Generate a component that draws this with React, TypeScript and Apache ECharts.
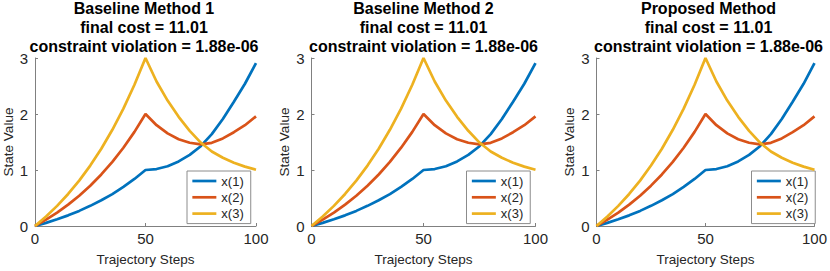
import React, { useEffect, useRef } from "react";
import * as echarts from "echarts";

const steps = [0, 5, 10, 15, 20, 25, 30, 35, 40, 45, 50, 55, 60, 65, 70, 75, 80, 85, 90, 95, 100];
const x1 = [0, 0.056, 0.12, 0.19, 0.27, 0.36, 0.46, 0.57, 0.7, 0.84, 1.0, 1.017, 1.068, 1.153, 1.27, 1.425, 1.64, 1.91, 2.22, 2.54, 2.91];
const x2 = [0, 0.113, 0.239, 0.381, 0.541, 0.72, 0.92, 1.145, 1.398, 1.681, 2.0, 1.8, 1.654, 1.55, 1.486, 1.458, 1.485, 1.564, 1.675, 1.8, 1.958];
const x3 = [0, 0.169, 0.359, 0.572, 0.811, 1.079, 1.38, 1.718, 2.097, 2.522, 3.0, 2.58, 2.24, 1.95, 1.7, 1.49, 1.33, 1.218, 1.129, 1.06, 1.005];
const seriesNames = ["x(1)", "x(2)", "x(3)"];
const seriesColors = ["#0072BD", "#D95319", "#EDB120"];
const panelTitles = ["Baseline Method 1", "Baseline Method 2", "Proposed Method"];
const costLines = ["final cost = 11.01", "final cost = 11.01", "final cost = 11.01"];
const violationLines = ["constraint violation = 1.88e-06", "constraint violation = 1.88e-06", "constraint violation = 1.88e-06"];
const xTicks = [0, 50, 100];
const yTicks = [0, 1, 2, 3];

const gridLefts = [32, 311.5, 596.5];
const gridWidth = 224;
const gridTop = 58;
const gridHeight = 172;
const FONT = '"Liberation Sans", Arial, Helvetica, sans-serif';
const TXT = "#262626";
const AXIS = "#808080";

export default function App() {
  const ref = useRef<HTMLDivElement>(null);
  useEffect(() => {
    if (!ref.current) return;
    const chart = echarts.init(ref.current, undefined, { renderer: "svg" });
    const allData = [x1, x2, x3];
    const grids: any[] = [];
    const xAxes: any[] = [];
    const yAxes: any[] = [];
    const series: any[] = [];
    const legends: any[] = [];
    const graphics: any[] = [];
    gridLefts.forEach((left, p) => {
      grids.push({ left, top: gridTop, width: gridWidth, height: gridHeight, containLabel: false });
      xAxes.push({
        gridIndex: p,
        type: "value",
        min: xTicks[0],
        max: xTicks[xTicks.length - 1],
        interval: 50,
        name: "Trajectory Steps",
        nameLocation: "middle",
        nameGap: 26,
        nameTextStyle: { fontFamily: FONT, fontSize: 13.5, color: TXT },
        axisLine: { show: true, lineStyle: { color: AXIS, width: 1 } },
        axisTick: { show: true, inside: true, length: 3, lineStyle: { color: AXIS } },
        axisLabel: { fontFamily: FONT, fontSize: 15, color: TXT, margin: 5 },
        splitLine: { show: false },
      });
      yAxes.push({
        gridIndex: p,
        type: "value",
        min: yTicks[0],
        max: yTicks[yTicks.length - 1],
        interval: 1,
        name: "State Value",
        nameLocation: "middle",
        nameGap: 20,
        nameTextStyle: { fontFamily: FONT, fontSize: 13.5, color: TXT },
        axisLine: { show: true, lineStyle: { color: AXIS, width: 1 } },
        axisTick: { show: true, inside: true, length: 3, lineStyle: { color: AXIS } },
        axisLabel: { fontFamily: FONT, fontSize: 15, color: TXT, margin: 7 },
        splitLine: { show: false },
      });
      allData.forEach((vals, s) => {
        series.push({
          type: "line",
          name: seriesNames[s],
          xAxisIndex: p,
          yAxisIndex: p,
          data: steps.map((st, i) => [st, vals[i]]),
          symbol: "none",
          lineStyle: { color: seriesColors[s], width: 2.7 },
          itemStyle: { color: seriesColors[s] },
          z: 2 + s,
        });
      });
      legends.push({
        orient: "vertical",
        left: left + 155,
        top: 171,
        data: seriesNames,
        itemWidth: 24,
        itemHeight: 13,
        itemGap: 3.3,
        padding: [3.5, 7, 3.5, 4],
        backgroundColor: "#ffffff",
        borderColor: "#8c8c8c",
        borderWidth: 1,
        borderRadius: 0,
        selectedMode: false,
        itemStyle: { opacity: 0 },
        lineStyle: { width: 2.7 },
        textStyle: { fontFamily: FONT, fontSize: 13, color: TXT },
      });
      const cx = left + gridWidth / 2;
      [panelTitles[p], costLines[p], violationLines[p]].forEach((t, li) => {
        graphics.push({
          type: "text",
          x: cx,
          y: 8.5 + li * 19,
          style: {
            text: t,
            textAlign: "center",
            textVerticalAlign: "middle",
            font: `bold 16px ${FONT}`,
            fill: "#000000",
          },
        });
      });
    });
    chart.setOption({
      animation: false,
      backgroundColor: "#ffffff",
      grid: grids,
      xAxis: xAxes,
      yAxis: yAxes,
      series,
      legend: legends,
      graphic: graphics,
    });
    return () => chart.dispose();
  }, []);
  return <div ref={ref} style={{ position: "absolute", left: 0, top: 0, width: 830, height: 271 }} />;
}
